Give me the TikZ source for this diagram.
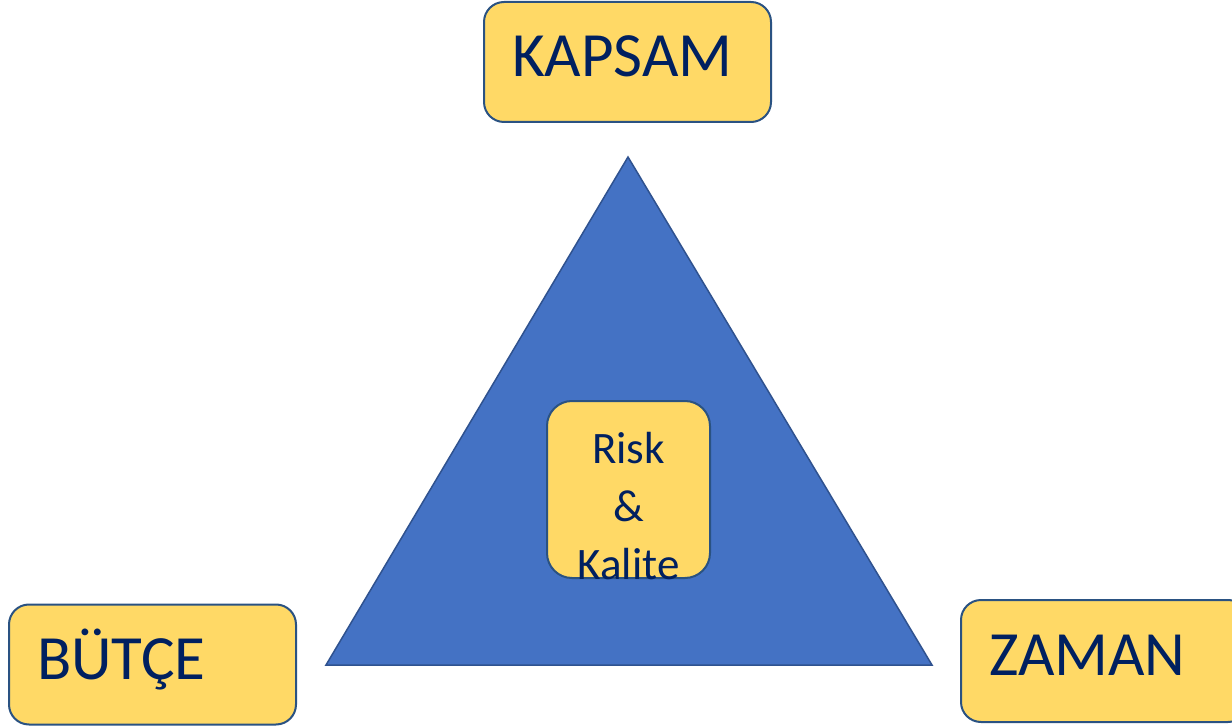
\documentclass[tikz,border=0pt]{standalone}
\usepackage{fontspec}
\setmainfont{Carlito}
\usepackage{tikz}
\usetikzlibrary{positioning}

\definecolor{boxfill}{HTML}{FFD966}
\definecolor{boxedge}{HTML}{2A5282}
\definecolor{textnavy}{HTML}{002060}
\definecolor{trifill}{HTML}{4472C4}
\definecolor{triedge}{HTML}{2F528F}

\tikzset{
  cornerbox/.style={draw=boxedge, fill=boxfill, line width=2pt, rounded corners=20pt,
    minimum width=287pt, minimum height=120pt, text width=231pt, align=left,
    inner xsep=28pt, inner ysep=0pt, text height=41pt, text depth=12pt,
    text=textnavy, font=\fontsize{63}{70}\selectfont},
  riskbox/.style={draw=boxedge, fill=boxfill, line width=2pt, rounded corners=25pt,
    minimum width=163pt, minimum height=177pt, inner sep=0pt},
  risktext/.style={text=textnavy, align=center, inner sep=0pt,
    font=\fontsize{45}{58}\selectfont},
}

\begin{document}
\begin{tikzpicture}[x=1pt,y=1pt,yscale=-1,xscale=1]
\useasboundingbox (0,0) rectangle (1232,727);

%Triangle corners
\coordinate (apex) at (628,157);
\coordinate (baseL) at (326,665);
\coordinate (baseR) at (932,665);
%Triangle
\draw [draw=triedge, fill=trifill, line width=1.5pt, line join=miter] (apex) -- (baseL) -- (baseR) -- cycle;

%Rounded Rect [KAPSAM]
\node [cornerbox] (kapsam) at (627.5,62) {KAPSAM};
%Rounded Rect [BUTCE]
\node [cornerbox] (butce) at (152.5,664.5) {BÜTÇE};
%Rounded Rect [ZAMAN]
\node [cornerbox, minimum height=122pt] (zaman) at (1104.5,661) {ZAMAN};

%Rounded Rect [Risk]
\node [riskbox] (risk) at (628.5,489.5) {};
% Text Node
\node [risktext, anchor=north] (risklbl) at ([yshift=32pt]risk.north) {Risk\\\&\\Kalite};
\end{tikzpicture}
\end{document}
